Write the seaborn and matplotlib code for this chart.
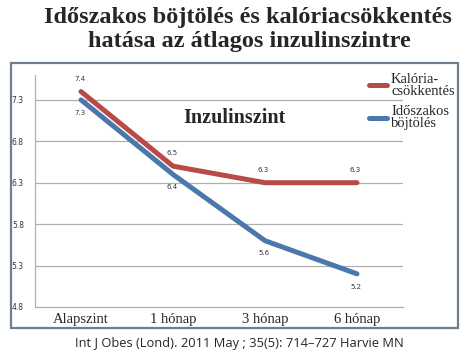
import matplotlib
matplotlib.use("Agg")
import matplotlib.pyplot as plt
import seaborn as sns
import pandas as pd
from matplotlib.patches import Rectangle

months = ["Alapszint", "1 hónap", "3 hónap", "6 hónap"]
kaloria = [7.4, 6.5, 6.3, 6.3]
idoszakos = [7.3, 6.4, 5.6, 5.2]
series_names = ["Kalória-\ncsökkentés", "Időszakos\nböjtölés"]
yticks = [4.8, 5.3, 5.8, 6.3, 6.8, 7.3]

df = pd.DataFrame({
    "honap": months * 2,
    "ertek": kaloria + idoszakos,
    "csoport": [series_names[0]] * 4 + [series_names[1]] * 4,
})

sns.set_style("white")
serif = ["Liberation Serif", "DejaVu Serif"]
colors = {series_names[0]: "#b84b48", series_names[1]: "#4a78ad"}

fig = plt.figure(figsize=(4.74, 3.6), dpi=100)
ax = fig.add_axes([35 / 474, 1 - 307 / 360, 368 / 474, 232 / 360])

# outer frame around the plot
fig.patches.append(Rectangle((11 / 474, 1 - 328 / 360), 447 / 474, 265 / 360,
                             transform=fig.transFigure, fill=False,
                             edgecolor="#6f7f8e", linewidth=1.6))

sns.lineplot(data=df, x="honap", y="ertek", hue="csoport", palette=colors,
             linewidth=3.6, sort=False, ax=ax, legend=False)

ax.set_xlim(-0.5, 3.5)
ax.set_ylim(4.8, 7.6)
ax.set_yticks(yticks)
ax.set_yticklabels([f"{v:.1f}" for v in yticks], fontsize=5.5, family="DejaVu Sans",
                   color="#333333")
ax.set_xticks(range(len(months)))
ax.set_xticklabels(months, fontsize=10.5, family=serif)
ax.tick_params(axis="x", length=0, pad=4)
ax.tick_params(axis="y", length=3, color="#aaaaaa", pad=5)
for y in yticks[1:]:
    ax.axhline(y, color="#b0b0b0", linewidth=0.9, zorder=0)
ax.set_xlabel("")
ax.set_ylabel("")
for side in ["top", "right"]:
    ax.spines[side].set_visible(False)
for side in ["left", "bottom"]:
    ax.spines[side].set_color("#b0b0b0")
    ax.spines[side].set_linewidth(0.9)

for i, v in enumerate(kaloria):
    ax.annotate(f"{v:.1f}", (i, v), xytext=(-1, 7), textcoords="offset points",
                ha="center", va="bottom", fontsize=5, color="#333333")
for i, v in enumerate(idoszakos):
    ax.annotate(f"{v:.1f}", (i, v), xytext=(-1, -7), textcoords="offset points",
                ha="center", va="top", fontsize=5, color="#333333")

ax.text(0.543, 0.815, "Inzulinszint", transform=ax.transAxes, ha="center",
        va="center", fontsize=14.5, fontweight="bold", family=serif)

handles = [plt.Line2D([], [], color=colors[n], linewidth=3.6) for n in series_names]
leg = ax.legend(handles, series_names, loc="upper left",
                bbox_to_anchor=(356 / 474, 1 - 60 / 360), bbox_transform=fig.transFigure,
                frameon=False, handlelength=1.2, handletextpad=0.3, labelspacing=0.5,
                prop={"family": serif, "size": 10.5})
for t in leg.get_texts():
    t.set_linespacing(0.88)

fig.text(248 / 474, 1 - 17 / 360, "Időszakos böjtölés és kalóriacsökkentés",
         ha="center", va="center", fontsize=17.5, fontweight="bold", family=serif)
fig.text(249 / 474, 1 - 42 / 360, "hatása az átlagos inzulinszintre",
         ha="center", va="center", fontsize=17.5, fontweight="bold", family=serif)
fig.text(239 / 474, 1 - 344 / 360, "Int J Obes (Lond). 2011 May ; 35(5): 714–727 Harvie MN",
         ha="center", va="center", fontsize=9.3, family="Open Sans")

fig.savefig("out.png", dpi=100)
